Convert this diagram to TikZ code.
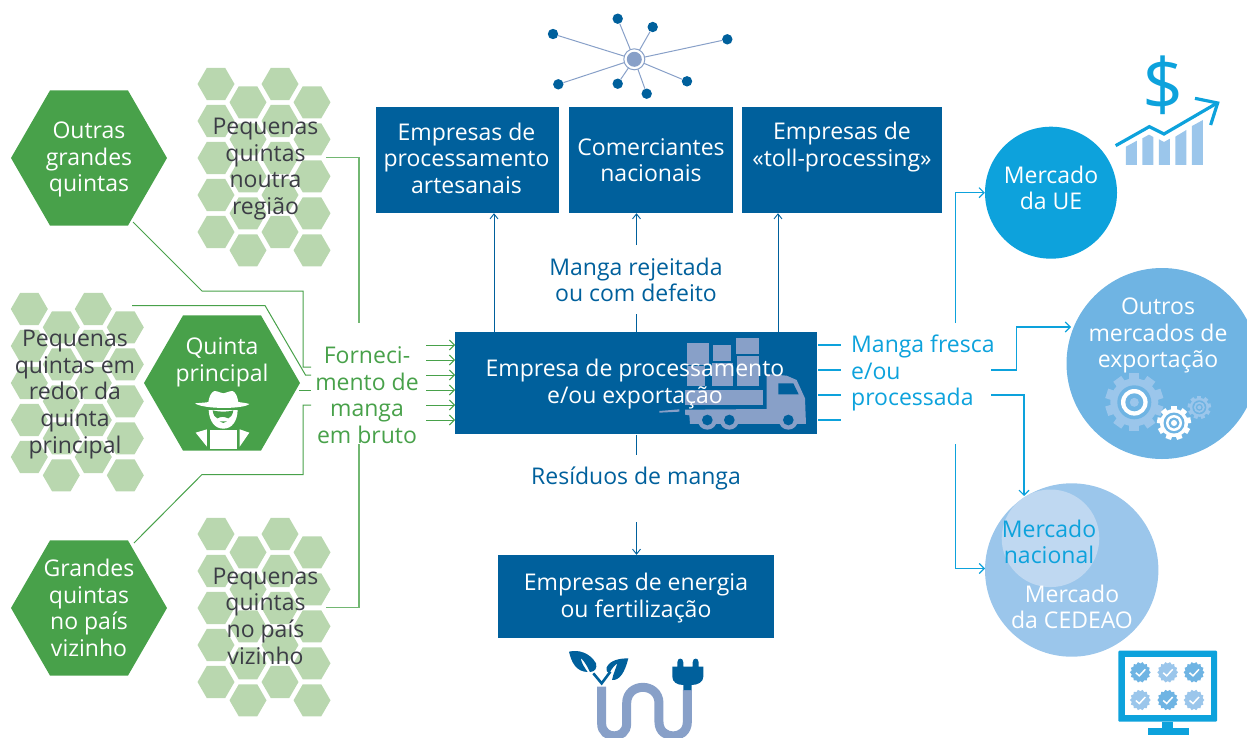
\documentclass[tikz,border=0pt]{standalone}
\usepackage{fontspec}
\setmainfont{Open Sans}
\usetikzlibrary{arrows.meta,shapes.geometric}
\definecolor{navy}{HTML}{00609C}
\definecolor{slate}{HTML}{88A0C8}
\definecolor{leaf}{HTML}{48A14A}
\definecolor{paleleaf}{HTML}{B9D7AF}
\definecolor{lineleaf}{HTML}{72B772}
\definecolor{cyan}{HTML}{0DA2DC}
\definecolor{sky}{HTML}{6FB4E3}
\definecolor{palesky}{HTML}{9BC6EB}
\definecolor{ice}{HTML}{BFD8F1}
\definecolor{ink}{HTML}{3C3D46}
\tikzset{
  txt/.style={inner sep=0pt,align=center,font=\fontsize{23}{26.6}\selectfont},
  bighex/.style={regular polygon,regular polygon sides=6,minimum size=156pt,inner sep=0pt,fill=leaf,text=white},
  smallhex/.style={regular polygon,regular polygon sides=6,minimum size=37pt,inner sep=0pt,fill=paleleaf},
  blockbox/.style={txt,fill=navy,text=white},
  marketdisc/.style={circle,inner sep=0pt,txt},
  gl/.style={draw=lineleaf,line width=1.3pt},
  gd/.style={draw=leaf,line width=1pt},
  ga/.style={draw=leaf,line width=1pt,-{Straight Barb[length=5pt,width=10pt]}},
  ba/.style={draw=navy,line width=.9pt,-{Straight Barb[length=5pt,width=8pt]}},
  bl/.style={draw=navy,line width=.9pt},
  ca/.style={draw=cyan,line width=1.1pt,-{Straight Barb[length=5pt,width=10pt]}},
  cl/.style={draw=cyan,line width=1.1pt},
}
% cluster of small hexagons
\newcommand{\hexcluster}[3]{%
  \foreach \c/\dx/\dy in {0/0/0,1/32/18.3,2/64/0,3/96/18.3}{
    \foreach \r in {0,1,2,3,4}{
      \node[smallhex] (#3-\c-\r) at ({#1+\dx},{#2+\dy+37*\r}) {};
    }
  }%
}
% gear: centre x,y, outer radius, body radius, teeth, colour
\newcommand{\gearicon}[6]{%
  \fill[#6] (#1,#2) circle[radius=#4];
  \foreach \t in {1,...,#5}{
    \fill[#6,rotate around={360/#5*\t:(#1,#2)}]
      ({#1-#3*0.17},#2) rectangle ({#1+#3*0.17},{#2-#3});
  }%
}
\newcommand{\badge}[3]{%
  \fill[#3] plot[samples=29,domain=0:360,smooth cycle=false] ({#1+(9.6+0.8*cos(14*\x))*cos(\x)},{#2+(9.6+0.8*cos(14*\x))*sin(\x)}) -- cycle;
  \draw[white,line width=1.5pt] ({#1-4.5},{#2+0.5}) -- ({#1-1},{#2+3.5}) -- ({#1+5},{#2-3});
}
\begin{document}
\begin{tikzpicture}[x=1pt,y=-1pt]
\useasboundingbox (0,0) rectangle (1247,737);

% ---- hexagon clusters
\hexcluster{216}{84}{hA}
\hexcluster{29.3}{309}{hB}
\hexcluster{216}{534}{hC}

% ---- green connectors
\coordinate (tA) at (326,157.5);
\coordinate (tAe) at (359,323);
\coordinate (tC) at (326,607.5);
\coordinate (tCe) at (359,444);
\coordinate (tO) at (133,222);
\coordinate (tOe) at (311,367);
\coordinate (tB) at (132,305.5);
\coordinate (tBe) at (311,375);
\coordinate (tQ) at (299,390);
\coordinate (tQe) at (311,390);
\coordinate (tG) at (134,543);
\coordinate (tGe) at (311,405);
\draw[gl] (tA) -- (359,157.5) -- (tAe);
\draw[gl] (tC) -- (359,607.5) -- (tCe);
\draw[gd] (tO) -- (202,291) -- (303,291) -- (303,367) -- (tOe);
\draw[gd] (tB) -- (265,305.5) -- (305.5,375) -- (tBe);
\draw[gd] (tQ) -- (tQe);
\draw[gd] (tGe) -- (303,405) -- (303,474.5) -- (202,474.5) -- (tG);

% ---- big hexagons
\node[bighex] (outras) at (89,158) {};
\node[bighex] (quinta) at (222,383) {};
\node[bighex] (grandes) at (89,608) {};

% ---- farmer
\begin{scope}[shift={(180,380)},x=0.3333pt,y=-0.3333pt]
  \fill[white] (45,70) .. controls (65,68) and (78,68) .. (85,66) .. controls (88,50) and (92,38) .. (103,33)
     .. controls (115,33) and (122,40) .. (130,40) .. controls (138,40) and (145,33) .. (158,33)
     .. controls (168,38) and (172,50) .. (175,66) .. controls (185,68) and (195,68) .. (208,72)
     .. controls (190,88) and (70,88) .. (45,70) -- cycle;
  \fill[white] (86,90) -- (173,90) .. controls (172,125) and (155,146) .. (130,146) .. controls (105,146) and (88,125) .. (86,90) -- cycle;
  \fill[leaf] (98,91) .. controls (115,96) and (145,96) .. (160,91) .. controls (158,105) and (152,113) .. (145,115) .. controls (130,109) and (125,109) .. (112,115) .. controls (105,113) and (100,105) .. (98,91) -- cycle;
  \fill[leaf] (119,124) -- (141,124) -- (130,129) -- cycle;
  \fill[white] (90,150) -- (170,150) -- (170,208) -- (90,208) -- cycle;
  \fill[white] (47,158) -- (81,148) -- (81,200) -- cycle;
  \fill[white] (208,158) -- (179,148) -- (179,200) -- cycle;
\end{scope}

% ---- text on the left
\node[txt,text=white] (tOutras) at (89,159.5) {Outras\\grandes\\quintas};
\node[txt,text=white] (tQuinta) at (222,362.5) {Quinta\\principal};
\node[txt,text=white] (tGrandes) at (89,608) {Grandes\\quintas\\no país\\vizinho};
\node[txt,text=ink] (tNoutra) at (265.5,169) {Pequenas\\quintas\\noutra\\região};
\node[txt,text=ink] (tRedor) at (75,394.5) {Pequenas\\quintas em\\redor da\\quinta\\principal};
\node[txt,text=ink] (tVizinho) at (265.5,616) {Pequenas\\quintas\\no país\\vizinho};
\node[txt,text=leaf] (tForn) at (367,395) {Forneci-\\mento de\\manga\\em bruto};

% ---- blocks
\node[blockbox,minimum width=183pt,minimum height=106pt] (art) at (467.5,160) {};
\node[txt,text=white] (tArt) at (466.5,158) {Empresas de\\processamento\\artesanais};
\node[blockbox,minimum width=164pt,minimum height=106pt] (com) at (651,160) {Comerciantes\\nacionais};
\node[blockbox,minimum width=200pt,minimum height=106pt] (toll) at (842,160) {};
\node[txt,text=white] (tToll) at (842,147) {Empresas de\\«toll-processing»};
\node[blockbox,minimum width=361.5pt,minimum height=102.6pt] (main) at (636,383) {};
\node[blockbox,minimum width=276pt,minimum height=83pt] (ener) at (636,596.5) {};
\node[txt,text=white] (tEner) at (636,598) {Empresas de energia\\ou fertilização};

% ---- truck
\begin{scope}[shift={(650,330)},x=0.3333pt,y=-0.3333pt]
  \fill[slate] (111,39) rectangle (177,105);
  \fill[slate] (111,108) rectangle (165,167);
  \fill[slate] (189,45) rectangle (243,92);
  \fill[slate] (186,100) rectangle (249,167);
  \fill[slate] (258,24) rectangle (327,72);
  \fill[slate] (261,78) rectangle (327,167);
  \fill[slate] (105,180) rectangle (339,225);
  \fill[slate] (105,239) -- (350,237) -- (350,132) -- (410,137) -- (440,150) -- (465,205) -- (468,282) -- (120,282) -- (118,256) -- (105,254) -- cycle;
  \fill[slate] (172,270) circle[radius=29];
  \fill[slate] (238,270) circle[radius=29];
  \fill[slate] (415,270) circle[radius=29];
  \fill[navy] (172,270) circle[radius=16];
  \fill[navy] (238,270) circle[radius=16];
  \fill[navy] (415,270) circle[radius=16];
  \fill[navy] (385,160) -- (430,160) -- (446,193) -- (385,193) -- cycle;
  \fill[slate] (28,243) -- (88,238) -- (88,245) -- (28,248) -- cycle;
\end{scope}
\node[txt,text=white] (tMain) at (635,384) {Empresa de processamento\\e/ou exportação};

% ---- blue arrows
\coordinate (u1) at (494,332);
\coordinate (u2) at (636.5,332);
\coordinate (u2b) at (636.5,314);
\coordinate (u2c) at (636.5,245);
\coordinate (u3) at (778,332);
\coordinate (d1) at (636.5,434.5);
\coordinate (d1b) at (636.5,455);
\coordinate (d2) at (636.5,522);
\draw[ba] (u1) -- (u1 |- art.south);
\draw[bl] (u2) -- (u2b);
\draw[ba] (u2c) -- (u2c |- com.south);
\draw[ba] (u3) -- (u3 |- toll.south);
\draw[bl] (d1) -- (d1b);
\draw[ba] (d2) -- (d2 |- ener.north);
\node[txt,text=navy] (tRej) at (636,280) {Manga rejeitada\\ou com defeito};
\node[txt,text=navy] (tRes) at (636,478.5) {Resíduos de manga};

% ---- green arrows into the main block
\foreach \k/\yy in {1/345,2/360,3/375,4/390,5/405,6/420}{
  \coordinate (in\k) at (426,\yy);
  \draw[ga] (in\k) -- (in\k -| main.west);
}

% ---- markets
\node[marketdisc,fill=cyan,text=white,minimum size=132pt] (ue) at (1051,192.7) {};
\node[marketdisc,fill=sky,text=white,minimum size=191pt] (outros) at (1162,363.5) {};
\node[marketdisc,fill=palesky,text=white,minimum size=173.4pt] (cedeao) at (1071.7,570) {};
\node[marketdisc,fill=ice,minimum size=97.6pt] (nac) at (1050.5,538.3) {};
\node[txt,text=white] (tUE) at (1051,188) {Mercado\\da UE};
\node[txt,text=white] (tOutros) at (1158,335.5) {Outros\\mercados de\\exportação};
\node[txt,text=cyan] (tNac) at (1049,542) {Mercado\\nacional};
\node[txt,text=white] (tCed) at (1072,607) {Mercado\\da CEDEAO};

% ---- cyan connectors
\foreach \k/\yy in {1/345,2/370,3/395,4/420}{
  \coordinate (o\k) at (818,\yy);
  \draw[cl] (o\k) -- (841,\yy);
}
\node[txt,text=cyan,align=left,anchor=west] (tFres) at (851,373) {Manga fresca\\e/ou\\processada};
\coordinate (m1) at (955.7,323);
\coordinate (m2) at (991,370);
\coordinate (m3) at (991,395);
\coordinate (m4) at (955.7,444);
\coordinate (e2) at (1071,327);
\coordinate (e3) at (1024,496);
\draw[ca] (m1) -- (955.7,192.7) -- (ue.west);
\draw[ca] (m2) -- (1016.7,370) -- (1016.7,327) -- (e2);
\draw[ca] (m3) -- (1024,395) -- (e3);
\draw[ca] (m4) -- (955.7,568.5) -- (985,568.5);

% ---- network icon
\coordinate (hubpt) at (634.3,59.3);
\foreach \k/\nx/\ny in {a/553/34,b/617.7/18.7,c/652.7/27,d/727.3/39.3,e/558.3/84.3,f/617.7/83.7,g/646.7/93.7,h/687/81.3}{
  \node[circle,fill=navy,minimum size=10.4pt,inner sep=0pt] (sat\k) at (\nx,\ny) {};
  \draw[slate,line width=1pt] (hubpt) -- (sat\k);
}
\node[circle,fill=white,draw=slate,line width=1pt,minimum size=21pt,inner sep=0pt] (hubo) at (hubpt) {};
\node[circle,fill=slate,minimum size=15pt,inner sep=0pt] (hubi) at (hubpt) {};

% ---- dollar / chart icon
\node[inner sep=0pt,text=cyan,font=\fontsize{72}{72}\selectfont] (dol) at (1163,85) {\$};
\begin{scope}[shift={(940,50)},x=0.3333pt,y=-0.3333pt]
  \fill[palesky] (558,345) -- (558,290) -- (591,272) -- (591,345) -- cycle;
  \fill[palesky] (607,345) -- (607,265) -- (627,254) -- (640,261) -- (640,345) -- cycle;
  \fill[palesky] (657,345) -- (657,268) -- (672,276) -- (690,266) -- (690,345) -- cycle;
  \fill[palesky] (706,345) -- (706,260) -- (739,240) -- (739,345) -- cycle;
  \fill[palesky] (756,345) -- (756,228) -- (789,210) -- (789,345) -- cycle;
  \draw[cyan,line width=3.2pt] (527,287) -- (628,230) -- (672,252) -- (830,160);
  \draw[cyan,line width=3.2pt] (765,145) -- (833,159) -- (812,225);
\end{scope}

% ---- gears
\gearicon{1134.3}{402.3}{29}{24}{10}{palesky}
\fill[sky] (1134.3,402.3) circle[radius=17];
\fill[white] (1134.3,402.3) circle[radius=13.3];
\fill[sky] (1134.3,402.3) circle[radius=9];
\fill[palesky] (1134.3,402.3) circle[radius=4.5];
\gearicon{1174}{423}{17}{14}{9}{white}
\fill[sky] (1174,423) circle[radius=10.5];
\fill[white] (1174,423) circle[radius=8];
\fill[sky] (1174,423) circle[radius=5.5];
\fill[white] (1174,423) circle[radius=3];
\gearicon{1199.3}{407.3}{11.7}{9.5}{9}{palesky}
\fill[sky] (1199.3,407.3) circle[radius=7];
\fill[palesky] (1199.3,407.3) circle[radius=5.5];
\fill[sky] (1199.3,407.3) circle[radius=3.5];
\fill[palesky] (1199.3,407.3) circle[radius=2];

% ---- monitor
\fill[cyan,rounded corners=1pt] (1118.3,650.7) rectangle (1217,721.7);
\fill[white] (1125,656.7) rectangle (1210.7,715);
\fill[cyan] (1162.3,721.7) rectangle (1173.3,728.5);
\fill[cyan] (1148.3,727.7) rectangle (1189,734.5);
\badge{1140.3}{672.3}{sky}
\badge{1167.7}{672.3}{palesky}
\badge{1194}{672.3}{sky}
\badge{1140.3}{700}{palesky}
\badge{1167.7}{700}{sky}
\badge{1194}{700}{palesky}

% ---- energy icon
\begin{scope}[shift={(540,630)},x=0.3333pt,y=-0.3333pt]
  \clip (-10,0) rectangle (500,321);
  \draw[slate,line width=9pt] (185,170) -- (185,281)
     .. controls (185,330) and (260,330) .. (260,281) -- (260,220)
     .. controls (260,156) and (357,156) .. (357,220) -- (357,276)
     .. controls (357,332) and (442,332) .. (442,276) -- (442,180);
  \fill[navy] (87,65) .. controls (115,58) and (150,68) .. (168,100) .. controls (172,115) and (165,125) .. (150,126) .. controls (135,95) and (125,85) .. (122,85) .. controls (125,100) and (135,115) .. (143,126) .. controls (110,125) and (95,100) .. (87,65) -- cycle;
  \fill[navy] (265,85) .. controls (240,85) and (210,90) .. (200,112) .. controls (198,122) and (202,128) .. (208,130) .. controls (215,115) and (225,105) .. (232,100) .. controls (228,115) and (220,130) .. (216,150) .. controls (240,152) and (255,125) .. (265,85) -- cycle;
  \draw[navy,line width=2.6pt] (160,130) -- (185,160) -- (211,125);
  \fill[navy] (412,110) -- (412,97) .. controls (412,82) and (430,82) .. (430,97) -- (430,110) -- (458,110) -- (458,97) .. controls (458,82) and (476,82) .. (476,97) -- (476,110) -- (490,110) -- (490,140) .. controls (490,155) and (475,165) .. (455,165) -- (455,180) -- (430,180) -- (430,165) .. controls (410,165) and (397,155) .. (397,140) -- (397,110) -- cycle;
\end{scope}
\end{tikzpicture}
\end{document}
